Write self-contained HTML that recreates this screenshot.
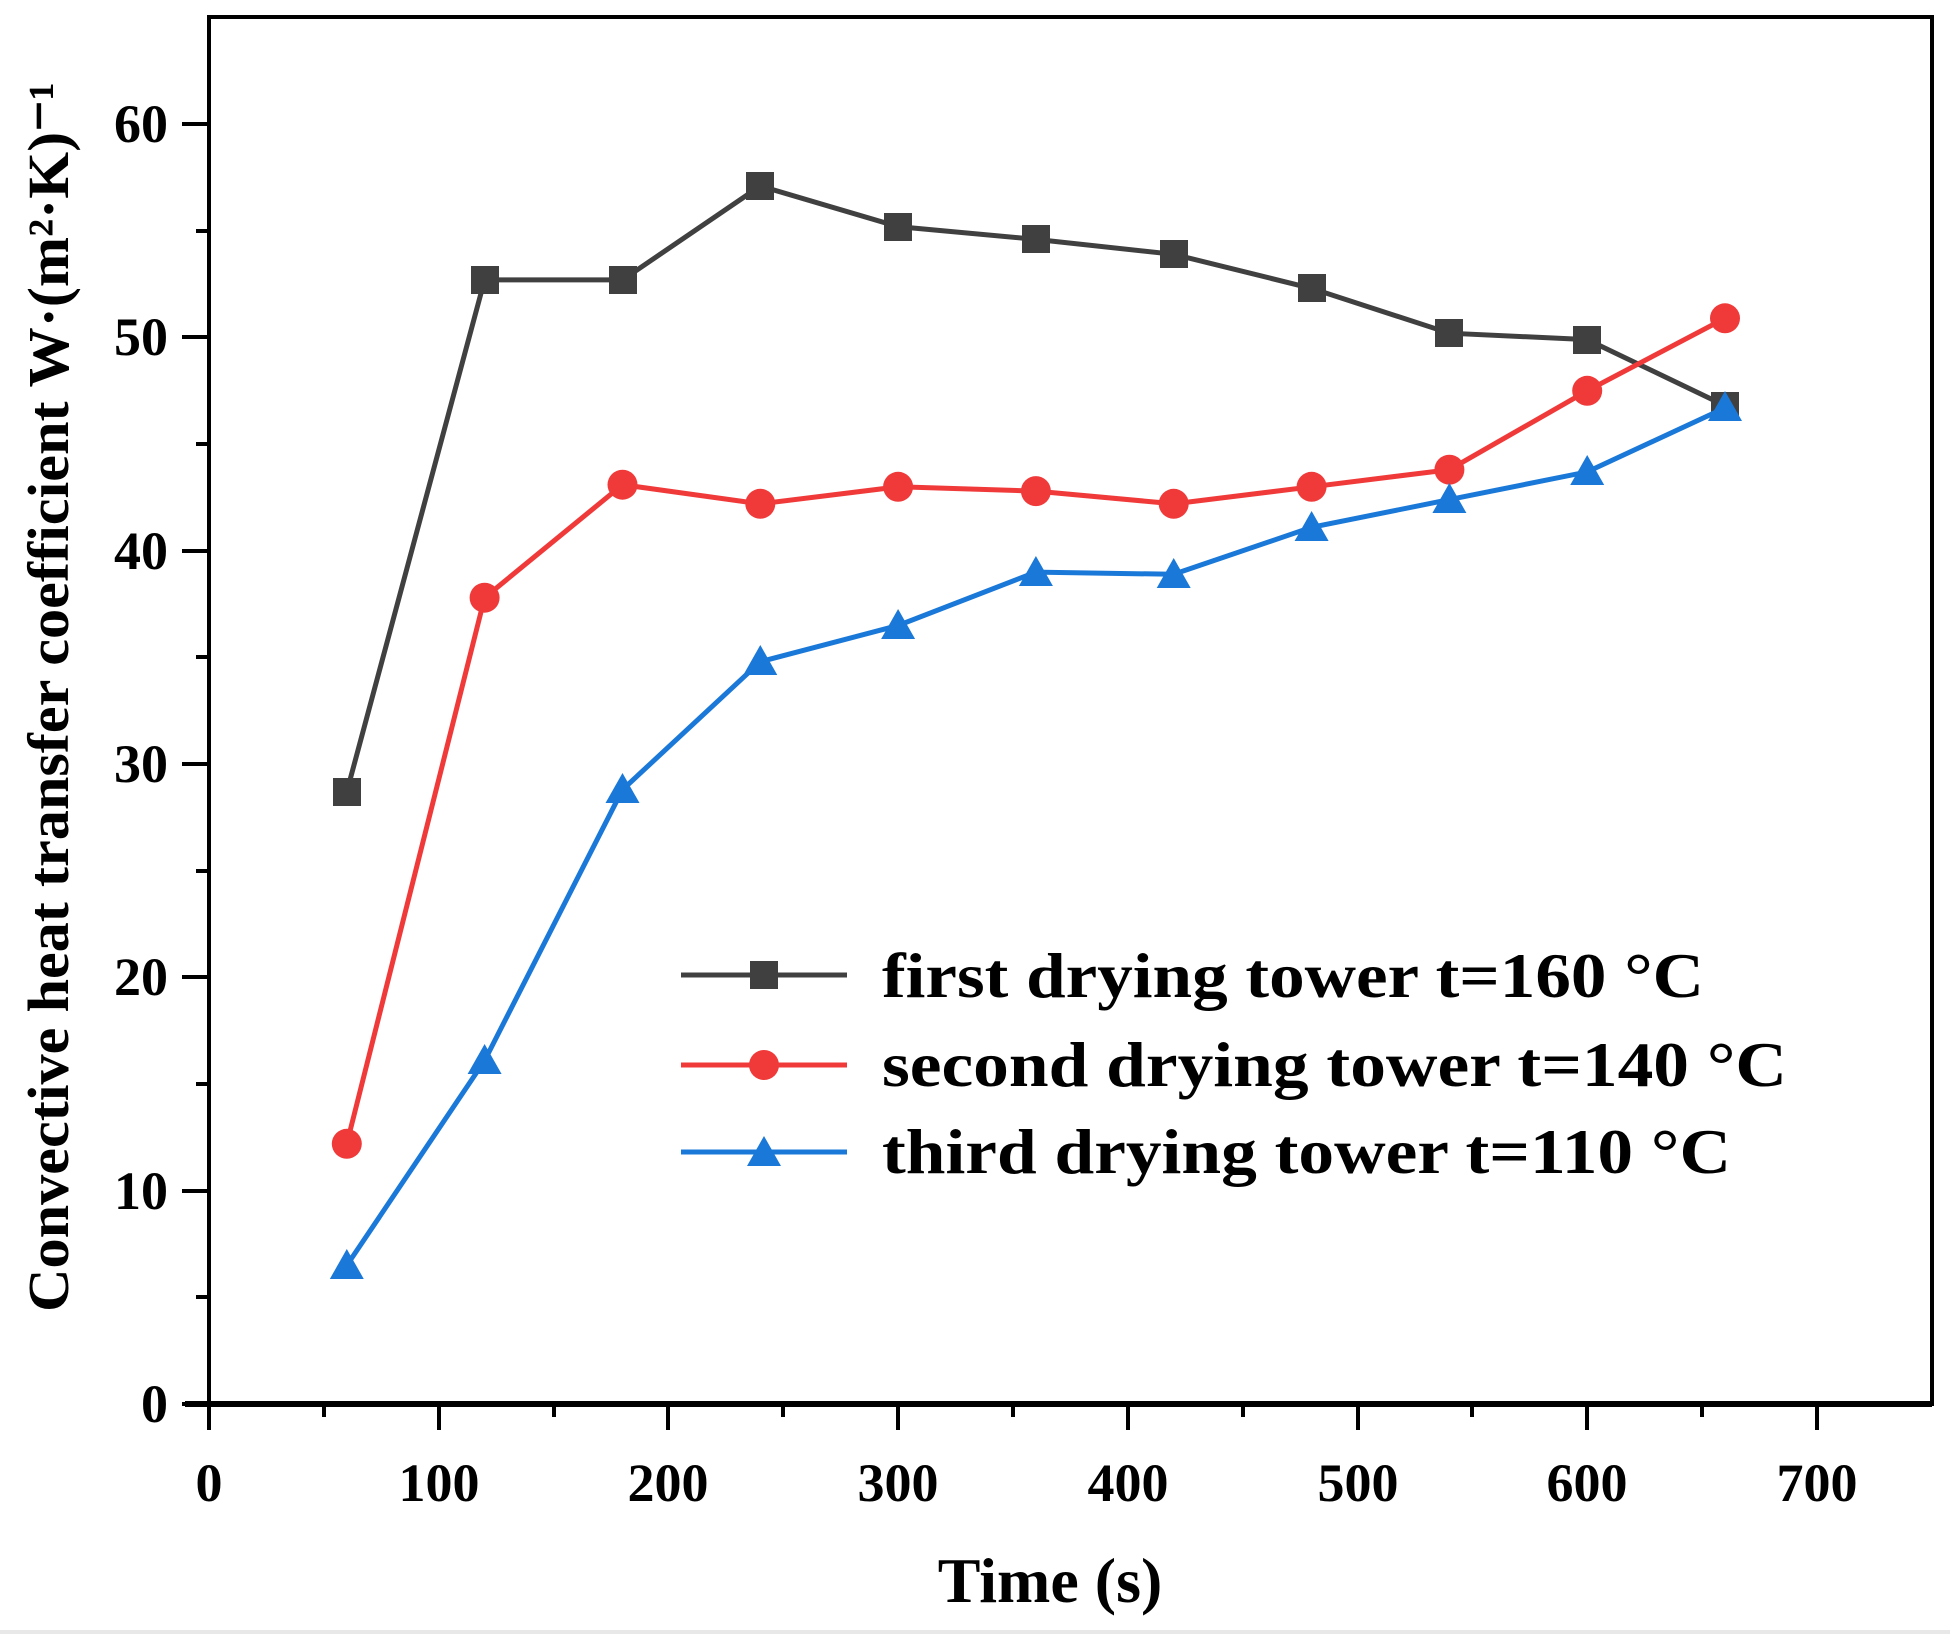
<!DOCTYPE html>
<html><head><style>html,body{margin:0;padding:0;background:#fff}</style></head>
<body>
<svg width="1950" height="1634" viewBox="0 0 1950 1634" xmlns="http://www.w3.org/2000/svg" font-family="Liberation Serif, serif" font-weight="bold">
<rect width="1950" height="1634" fill="#fff"/>
<rect x="0" y="1630" width="1950" height="4" fill="#e8e8e8"/>
<rect x="209" y="17" width="1723" height="1387" fill="none" stroke="#000" stroke-width="4"/>
<line x1="185" y1="1404" x2="1932" y2="1404" stroke="#000" stroke-width="6"/>
<g stroke="#000" stroke-width="4">
<line x1="182" y1="1404" x2="209" y2="1404"/><line x1="182" y1="1191" x2="209" y2="1191"/><line x1="182" y1="977" x2="209" y2="977"/><line x1="182" y1="764" x2="209" y2="764"/><line x1="182" y1="551" x2="209" y2="551"/><line x1="182" y1="337" x2="209" y2="337"/><line x1="182" y1="124" x2="209" y2="124"/>
<line x1="196" y1="1297" x2="209" y2="1297"/><line x1="196" y1="1084" x2="209" y2="1084"/><line x1="196" y1="871" x2="209" y2="871"/><line x1="196" y1="657" x2="209" y2="657"/><line x1="196" y1="444" x2="209" y2="444"/><line x1="196" y1="231" x2="209" y2="231"/>
<line x1="209" y1="1404" x2="209" y2="1430"/><line x1="439" y1="1404" x2="439" y2="1430"/><line x1="668" y1="1404" x2="668" y2="1430"/><line x1="898" y1="1404" x2="898" y2="1430"/><line x1="1128" y1="1404" x2="1128" y2="1430"/><line x1="1358" y1="1404" x2="1358" y2="1430"/><line x1="1587" y1="1404" x2="1587" y2="1430"/><line x1="1817" y1="1404" x2="1817" y2="1430"/>
<line x1="324" y1="1404" x2="324" y2="1417"/><line x1="554" y1="1404" x2="554" y2="1417"/><line x1="783" y1="1404" x2="783" y2="1417"/><line x1="1013" y1="1404" x2="1013" y2="1417"/><line x1="1243" y1="1404" x2="1243" y2="1417"/><line x1="1472" y1="1404" x2="1472" y2="1417"/><line x1="1702" y1="1404" x2="1702" y2="1417"/>
</g>
<g font-size="54" text-anchor="end">
<text x="168" y="1422">0</text><text x="168" y="1209">10</text><text x="168" y="995">20</text><text x="168" y="782">30</text><text x="168" y="569">40</text><text x="168" y="355">50</text><text x="168" y="142">60</text>
</g>
<g font-size="54" text-anchor="middle">
<text x="209" y="1501">0</text><text x="439" y="1501">100</text><text x="668" y="1501">200</text><text x="898" y="1501">300</text><text x="1128" y="1501">400</text><text x="1358" y="1501">500</text><text x="1587" y="1501">600</text><text x="1817" y="1501">700</text>
</g>
<text x="1050" y="1602" font-size="64" text-anchor="middle">Time  (s)</text>
<text transform="translate(68,697) rotate(-90)" font-size="58" text-anchor="middle" textLength="1230" lengthAdjust="spacingAndGlyphs">Convective heat transfer coefficient W·(m²·K)⁻¹</text>
<polyline fill="none" stroke="#404040" stroke-width="5" points="346.8,791.8 484.6,279.9 622.5,279.9 760.3,186 898.1,226.6 1035.9,239.4 1173.7,254.3 1311.6,288.4 1449.4,333.2 1587.2,339.6 1725,405.6"/>
<g fill="#404040">
<rect x="333" y="778" width="28" height="28"/><rect x="471" y="266" width="28" height="28"/><rect x="609" y="266" width="28" height="28"/><rect x="746" y="172" width="28" height="28"/><rect x="884" y="213" width="28" height="28"/><rect x="1022" y="225" width="28" height="28"/><rect x="1160" y="240" width="28" height="28"/><rect x="1298" y="274" width="28" height="28"/><rect x="1435" y="319" width="28" height="28"/><rect x="1573" y="326" width="28" height="28"/><rect x="1711" y="392" width="28" height="28"/>
</g>
<polyline fill="none" stroke="#f03a3a" stroke-width="5" points="346.8,1143.8 484.6,597.7 622.5,484.7 760.3,503.8 898.1,486.8 1035.9,491.1 1173.7,503.8 1311.6,486.8 1449.4,469.7 1587.2,390.8 1725,318.3"/>
<g fill="#f03a3a">
<circle cx="346.8" cy="1143.8" r="15"/><circle cx="484.6" cy="597.7" r="15"/><circle cx="622.5" cy="484.7" r="15"/><circle cx="760.3" cy="503.8" r="15"/><circle cx="898.1" cy="486.8" r="15"/><circle cx="1035.9" cy="491.1" r="15"/><circle cx="1173.7" cy="503.8" r="15"/><circle cx="1311.6" cy="486.8" r="15"/><circle cx="1449.4" cy="469.7" r="15"/><circle cx="1587.2" cy="390.8" r="15"/><circle cx="1725" cy="318.3" r="15"/>
</g>
<polyline fill="none" stroke="#1a78d8" stroke-width="5" points="346.8,1265.4 484.6,1060.6 622.5,789.7 760.3,661.7 898.1,625.5 1035.9,572.1 1173.7,574.3 1311.6,527.3 1449.4,499.6 1587.2,471.9 1725,407.9"/>
<g fill="#1a78d8">
<path d="M346.8,1249 l17,30 h-34z"/><path d="M484.6,1044 l17,30 h-34z"/><path d="M622.5,773 l17,30 h-34z"/><path d="M760.3,645 l17,30 h-34z"/><path d="M898.1,609 l17,30 h-34z"/><path d="M1035.9,556 l17,30 h-34z"/><path d="M1173.7,558 l17,30 h-34z"/><path d="M1311.6,511 l17,30 h-34z"/><path d="M1449.4,483 l17,30 h-34z"/><path d="M1587.2,455 l17,30 h-34z"/><path d="M1725,391 l17,30 h-34z"/>
</g>
<line x1="681" y1="975" x2="847" y2="975" stroke="#404040" stroke-width="5"/>
<rect x="750" y="961" width="28" height="28" fill="#404040"/>
<line x1="681" y1="1065" x2="847" y2="1065" stroke="#f03a3a" stroke-width="5"/>
<circle cx="764" cy="1065" r="15" fill="#f03a3a"/>
<line x1="681" y1="1152" x2="847" y2="1152" stroke="#1a78d8" stroke-width="5"/>
<path d="M764,1136 l17,30 h-34z" fill="#1a78d8"/>
<g font-size="64">
<text x="882" y="997" textLength="822" lengthAdjust="spacingAndGlyphs">first drying tower t=160 °C</text>
<text x="882" y="1086" textLength="905" lengthAdjust="spacingAndGlyphs">second drying tower t=140 °C</text>
<text x="882" y="1173" textLength="849" lengthAdjust="spacingAndGlyphs">third drying tower t=110 °C</text>
</g>
</svg>
</body></html>
